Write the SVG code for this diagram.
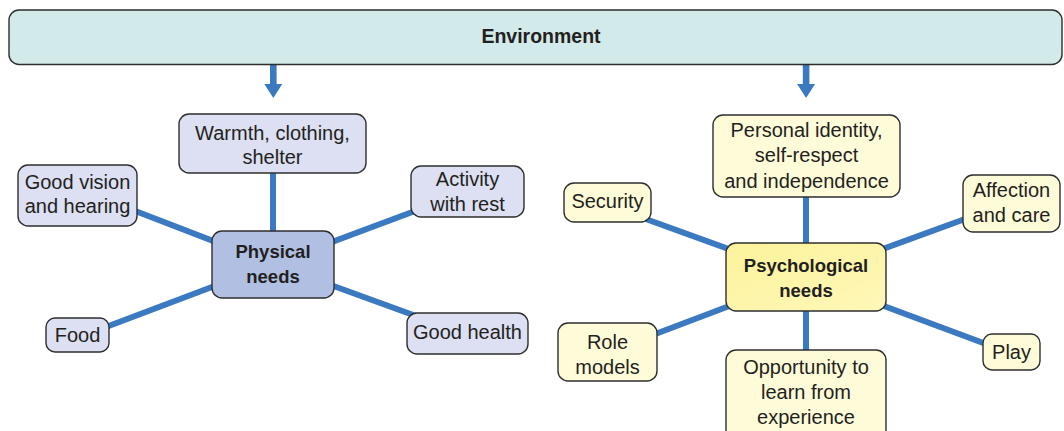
<svg xmlns="http://www.w3.org/2000/svg" width="1064" height="431" viewBox="0 0 1064 431">
<defs>
<style>
.bx{stroke:#2e2e2e;stroke-width:1.4}
.env{fill:#d3eaea}
.pl{fill:#dce0f2}
.pc{fill:#b1bfe3}
.yl{fill:#fefbd9}
.yc{fill:url(#yg)}
.t{font-family:"Liberation Sans",Arial,sans-serif;font-size:20px;fill:#231f20;text-anchor:middle}
.b{font-weight:bold;font-size:18.5px}
.ln{stroke:#3b79c0;stroke-width:6;fill:none}
.ar{fill:#3b79c0}
</style>
<linearGradient id="yg" x1="0" y1="0" x2="1" y2="1">
<stop offset="0" stop-color="#fdf39c"/>
<stop offset="1" stop-color="#fef7b8"/>
</linearGradient>
</defs>
<rect width="1064" height="431" fill="#ffffff"/>
<g id="connectors">
<path class="ar" d="M270 64.5H276.6V84H282.3L273.3 98L264.3 84H270Z"/>
<path class="ar" d="M802.8 64.5H809.4V84H815.1L806.1 98L797.1 84H802.8Z"/>
<line class="ln" x1="273" y1="264" x2="273" y2="172"/>
<line class="ln" x1="273" y1="264" x2="134" y2="210.5"/>
<line class="ln" x1="273" y1="264" x2="415" y2="211"/>
<line class="ln" x1="273" y1="264" x2="416" y2="316"/>
<line class="ln" x1="273" y1="264" x2="106" y2="327"/>
<line class="ln" x1="806" y1="277" x2="806" y2="196"/>
<line class="ln" x1="806" y1="277" x2="806" y2="351"/>
<line class="ln" x1="806" y1="277" x2="643" y2="218"/>
<line class="ln" x1="806" y1="277" x2="965" y2="219"/>
<line class="ln" x1="806" y1="277" x2="986" y2="344"/>
<line class="ln" x1="806" y1="277" x2="654" y2="334.5"/>
</g>
<g id="environment">
<rect class="bx env" x="9" y="10" width="1053" height="54.5" rx="10"/>
<text class="t b" x="541" y="42.5" style="font-size:19.5px">Environment</text>
</g>
<g id="warmth">
<rect class="bx pl" x="179" y="114" width="187" height="59" rx="10"/>
<text class="t" x="272.5" y="140">Warmth, clothing,</text>
<text class="t" x="272.5" y="163.5">shelter</text>
</g>
<g id="vision">
<rect class="bx pl" x="18" y="165" width="119" height="61" rx="10"/>
<text class="t" x="77.5" y="188.5">Good vision</text>
<text class="t" x="77.5" y="213">and hearing</text>
</g>
<g id="activity">
<rect class="bx pl" x="411" y="166" width="113" height="51" rx="10"/>
<text class="t" x="467.5" y="186">Activity</text>
<text class="t" x="467.5" y="210.5">with rest</text>
</g>
<g id="physical">
<rect class="bx pc" x="212" y="231" width="122" height="67" rx="10"/>
<text class="t b" x="273" y="257.5">Physical</text>
<text class="t b" x="273" y="283">needs</text>
</g>
<g id="food">
<rect class="bx pl" x="46" y="318" width="63" height="34" rx="9"/>
<text class="t" x="77.5" y="341.5">Food</text>
</g>
<g id="health">
<rect class="bx pl" x="407" y="313" width="121" height="41" rx="10"/>
<text class="t" x="467.5" y="338.5">Good health</text>
</g>
<g id="identity">
<rect class="bx yl" x="713" y="115" width="187" height="82" rx="10"/>
<text class="t" x="806.5" y="137">Personal identity,</text>
<text class="t" x="806.5" y="162">self-respect</text>
<text class="t" x="806.5" y="187.5">and independence</text>
</g>
<g id="security">
<rect class="bx yl" x="564" y="183" width="87" height="39" rx="10"/>
<text class="t" x="607.5" y="207.5">Security</text>
</g>
<g id="affection">
<rect class="bx yl" x="963" y="175" width="97" height="57" rx="10"/>
<text class="t" x="1011.5" y="197">Affection</text>
<text class="t" x="1011.5" y="221.5">and care</text>
</g>
<g id="psychological">
<rect class="bx yc" x="726" y="243" width="160" height="68" rx="10"/>
<text class="t b" x="806" y="271.5">Psychological</text>
<text class="t b" x="806" y="296.5">needs</text>
</g>
<g id="role">
<rect class="bx yl" x="558" y="323" width="99" height="58" rx="10"/>
<text class="t" x="607.5" y="349">Role</text>
<text class="t" x="607.5" y="373.5">models</text>
</g>
<g id="play">
<rect class="bx yl" x="983" y="334" width="57" height="36" rx="9"/>
<text class="t" x="1011.5" y="358.5">Play</text>
</g>
<g id="opportunity">
<rect class="bx yl" x="726" y="350" width="160" height="92" rx="10"/>
<text class="t" x="806" y="373.5">Opportunity to</text>
<text class="t" x="806" y="398.5">learn from</text>
<text class="t" x="806" y="423.5">experience</text>
</g>
</svg>
